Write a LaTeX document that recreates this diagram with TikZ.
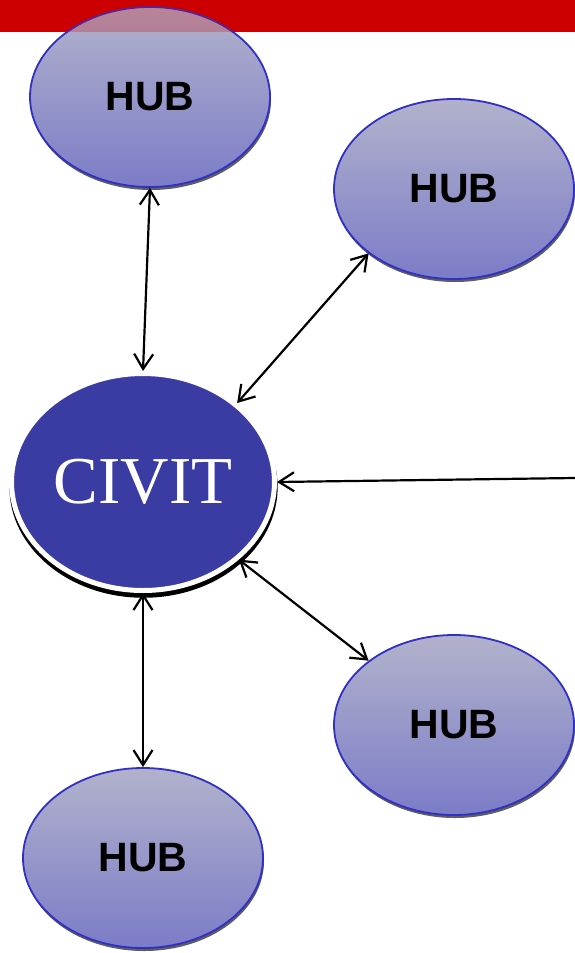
\documentclass[tikz,border=0pt]{standalone}
\usepackage{fontspec}
\newfontfamily\hubfont{Liberation Sans}
\newfontfamily\civitfont{Liberation Serif}
\usepackage{tikz}
\usetikzlibrary{shapes.geometric,shadows,arrows.meta}
\usepackage{xcolor}
\definecolor{barred}{RGB}{204,0,0}
\definecolor{hubtopcol}{RGB}{178,178,204}
\definecolor{hubbotcol}{RGB}{124,124,200}
\definecolor{hubline}{RGB}{48,48,200}
\definecolor{civitblue}{RGB}{59,60,163}

\begin{document}
\begin{tikzpicture}[x=1pt,y=-1pt,
	hub/.style = {ellipse, draw=hubline, line width=1.8pt, minimum width=240pt, minimum height=180pt,
		top color=hubtopcol, bottom color=hubbotcol,
		drop shadow={shadow xshift=1pt, shadow yshift=-3pt, fill=black!70, opacity=0.9},
		font=\hubfont\fontsize{41}{41}\selectfont\bfseries, text=black},
	center/.style = {ellipse, fill=civitblue, draw=white, line width=5pt, minimum width=263pt, minimum height=217pt,
		drop shadow={shadow xshift=0.5pt, shadow yshift=-5pt, shadow scale=1.02, fill=black, opacity=1},
		font=\civitfont\fontsize{67}{67}\selectfont, text=white},
	link/.style = {line width=2.2pt, {Straight Barb[length=15pt,width=19pt]}-{Straight Barb[length=15pt,width=19pt]}}]
		\useasboundingbox (0,0) rectangle (575,953);
		\fill[barred] (0,0) rectangle (575,32);
		\node[hub] (hubtop) at (150,97) {HUB};
		\node[hub] (hubright) at (454,189) {HUB};
		\node[center] (civit) at (143,482) {CIVIT};
		\node[hub] (hublowright) at (454,725) {HUB};
		\node[hub] (hubbottom) at (143,858) {HUB};
		\fill[barred, opacity=0.25] (0,0) rectangle (575,32);
		\coordinate (feed) at (575,478);
		\draw[link] (hubtop.south) -- (civit.north);
		\draw[link] (hubright.217) -- (civit.40);
		\draw[link, -{Straight Barb[length=15pt,width=19pt]}] (feed) -- (civit.east);
		\draw[link] (civit.321) -- (hublowright.143);
		\draw[link] (civit.south) -- (hubbottom.north);
	\end{tikzpicture}
\end{document}
